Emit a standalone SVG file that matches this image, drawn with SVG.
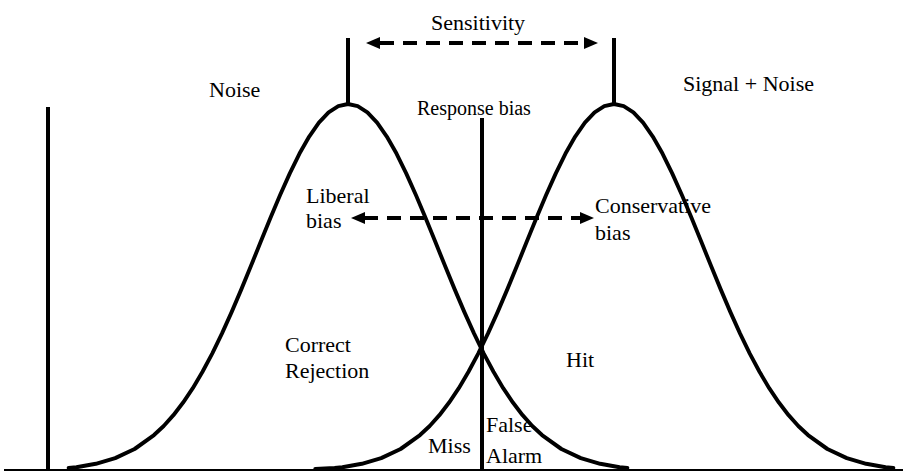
<svg xmlns="http://www.w3.org/2000/svg" width="905" height="472" viewBox="0 0 905 472">
<style>
text{font-family:'Liberation Serif','Times New Roman',Times,serif;font-size:22px;fill:#000}
.c{fill:none;stroke:#000;stroke-width:4;stroke-linejoin:round;stroke-linecap:round}
.v{stroke:#000;stroke-width:4}
.d{stroke:#000;stroke-width:4;stroke-dasharray:14 9}
.h{fill:#000}
</style>
<rect width="905" height="472" fill="#fff"/>
<g id="axes">
<line x1="4" y1="470" x2="903" y2="470" stroke="#000" stroke-width="2"/>
<line class="v" x1="48" y1="107" x2="48" y2="471"/>
</g>
<g id="noise">
<polyline class="c" points="60,468 68,467.2 88,463.8 108,458.1 128,449 148,435.1 158,426 168,415.2 178,402.6 188,388.2 198,371.8 208,353.6 218,333.6 228,312.1 238,289.4 248,265.8 258,241.8 268,218 278,195 288,173.3 298,153.6 308,136.6 318,122.7 328,112.4 338,106.1 348,104 358,106.1 368,112.4 378,122.7 388,136.6 398,153.6 408,173.3 418,195 428,218 438,241.8 448,265.8 458,289.4 468,312.1 478,333.6 488,353.6 498,371.8 508,388.2 518,402.6 528,415.2 538,426 548,435.1 568,449 588,458.1 608,463.8 628,467.2 636,468" transform="translate(348 0) scale(0.97 1) translate(-348 0)"/>
<line class="v" x1="348" y1="38" x2="348" y2="104"/>
<text x="209" y="97">Noise</text>
</g>
<g id="signal">
<polyline class="c" points="306,469 326,468 334,467.2 354,463.8 374,458.1 394,449 414,435.1 424,426 434,415.2 444,402.6 454,388.2 464,371.8 474,353.6 484,333.6 494,312.1 504,289.4 514,265.8 524,241.8 534,218 544,195 554,173.3 564,153.6 574,136.6 584,122.7 594,112.4 604,106.1 614,104 624,106.1 634,112.4 644,122.7 654,136.6 664,153.6 674,173.3 684,195 694,218 704,241.8 714,265.8 724,289.4 734,312.1 744,333.6 754,353.6 764,371.8 774,388.2 784,402.6 794,415.2 804,426 814,435.1 834,449 854,458.1 874,463.8 894,467.2 902,468" transform="translate(614 0) scale(0.97 1) translate(-614 0)"/>
<line class="v" x1="614" y1="38" x2="614" y2="104"/>
<text x="683" y="91">Signal + Noise</text>
</g>
<g id="criterion">
<line class="v" x1="482" y1="118" x2="482" y2="470"/>
<text x="417" y="115" style="font-size:20px">Response bias</text>
</g>
<g id="connectors">
<line class="d" x1="380" y1="43" x2="586" y2="43"/>
<polygon class="h" points="366,43 380,37 380,49"/>
<polygon class="h" points="598,43 584,37 584,49"/>
<line class="d" x1="364" y1="218" x2="582" y2="218"/>
<polygon class="h" points="351,218 365,212 365,224"/>
<polygon class="h" points="594,218 580,212 580,224"/>
</g>
<g id="sensitivity">
<text x="431" y="30">Sensitivity</text>
</g>
<g id="liberal">
<text x="306" y="203">Liberal</text>
<text x="306" y="228">bias</text>
</g>
<g id="conservative">
<text x="595" y="213">Conservative</text>
<text x="595" y="240">bias</text>
</g>
<g id="correct-rejection">
<text x="285" y="352">Correct</text>
<text x="285" y="378">Rejection</text>
</g>
<g id="hit">
<text x="566" y="367">Hit</text>
</g>
<g id="miss">
<text x="428" y="453">Miss</text>
</g>
<g id="false-alarm">
<text x="486" y="432">False</text>
<text x="486" y="463">Alarm</text>
</g>
</svg>
